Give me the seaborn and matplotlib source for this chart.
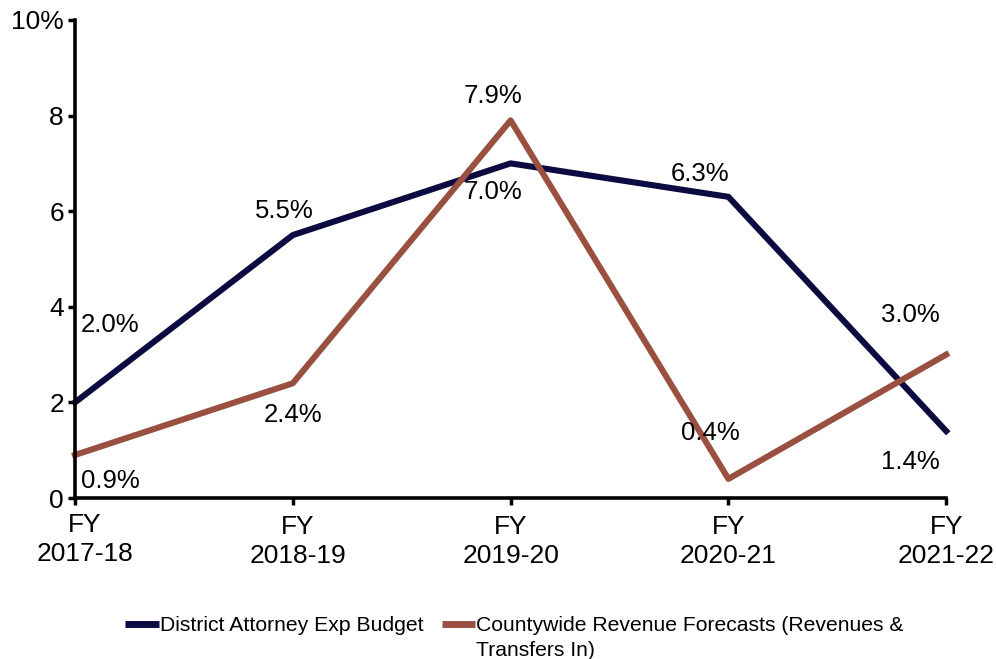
import pandas as pd
import seaborn as sns
import matplotlib.pyplot as plt
import matplotlib.transforms as mtransforms

# values
years = ['FY\n2017-18', 'FY\n2018-19', 'FY\n2019-20', 'FY\n2020-21', 'FY\n2021-22']
da_budget = [2.0, 5.5, 7.0, 6.3, 1.4]
county_rev = [0.9, 2.4, 7.9, 0.4, 3.0]
series_names = ['District Attorney Exp Budget',
                'Countywide Revenue Forecasts (Revenues &']
wrap_line = 'Transfers In)'
colors = ['#0b0b42', '#9a5040']

df = pd.DataFrame({
    'x': list(range(len(years))) * 2,
    'pct': da_budget + county_rev,
    'series': [series_names[0]] * len(years) + [series_names[1]] * len(years),
})

sns.set_style('ticks')
plt.rcParams['font.family'] = ['Liberation Sans', 'DejaVu Sans']
plt.rcParams['text.color'] = 'black'
plt.rcParams['xtick.color'] = 'black'
plt.rcParams['ytick.color'] = 'black'

fig = plt.figure(figsize=(9.96, 6.59), dpi=100)
ax = fig.add_axes([0.0753, 0.2443, 0.8747, 0.7254])

sns.lineplot(data=df, x='x', y='pct', hue='series', palette=colors,
             linewidth=4.4, ax=ax, legend=True)
for ln in ax.get_lines():
    ln.set_solid_capstyle('projecting')
    ln.set_clip_on(False)

# data labels (offsets in pixels)
da_offsets = [(35, 77), (-9, 24), (-18, -29), (-28, 23), (-36, -31)]
county_offsets = [(35, -26), (0, -32), (-18, 24), (-18, 46), (-36, 40)]
for i, v in enumerate(da_budget):
    ax.annotate(f'{v:.1f}%', (i, v), xytext=da_offsets[i], textcoords='offset pixels',
                ha='center', va='center', fontsize=18.5, color='black')
for i, v in enumerate(county_rev):
    ax.annotate(f'{v:.1f}%', (i, v), xytext=county_offsets[i], textcoords='offset pixels',
                ha='center', va='center', fontsize=18.5, color='black')

ax.set_xlim(0, 4)
ax.set_ylim(0, 10)
ax.set_xticks(range(len(years)))
ax.set_xticklabels(years)
ax.set_yticks([0, 2, 4, 6, 8, 10])
ax.set_yticklabels(['0', '2', '4', '6', '8', '10%'])
ax.set_xlabel('')
ax.set_ylabel('')
ax.tick_params(axis='both', labelsize=19, width=2.5, length=5, color='black',
               labelcolor='black', pad=3)
ax.tick_params(axis='x', pad=7)

# the first two x labels sit a little to the right in the reference
label_shift = [(10, 2), (5, 0), (0, 0), (0, 0), (0, 0)]
for lbl, (dx, dy) in zip(ax.get_xticklabels(), label_shift):
    lbl.set_linespacing(1.26)
    lbl.set_transform(lbl.get_transform() +
                      mtransforms.ScaledTranslation(dx / 100, dy / 100, fig.dpi_scale_trans))

sns.despine(ax=ax)
for s in ['left', 'bottom']:
    ax.spines[s].set_linewidth(2.6)
    ax.spines[s].set_color('black')

handles, labels = ax.get_legend_handles_labels()
for h in handles:
    h.set_solid_capstyle('butt')
    h.set_linewidth(5)
leg = ax.legend(handles, labels, loc='center', bbox_to_anchor=(0.5045, -0.2675),
                ncol=2, frameon=False, fontsize=15.2, handlelength=1.6,
                handletextpad=0.05, columnspacing=0.85, labelcolor='black')

# second line of the wrapped legend label
fig.canvas.draw()
t2 = leg.get_texts()[1]
bb = t2.get_window_extent().transformed(fig.transFigure.inverted())
fig.text(bb.x0, bb.y0 - 0.037, wrap_line, fontsize=15.2, ha='left', va='bottom',
         color='black', fontfamily=['Liberation Sans', 'DejaVu Sans'])

fig.savefig('out.png', dpi=100)
